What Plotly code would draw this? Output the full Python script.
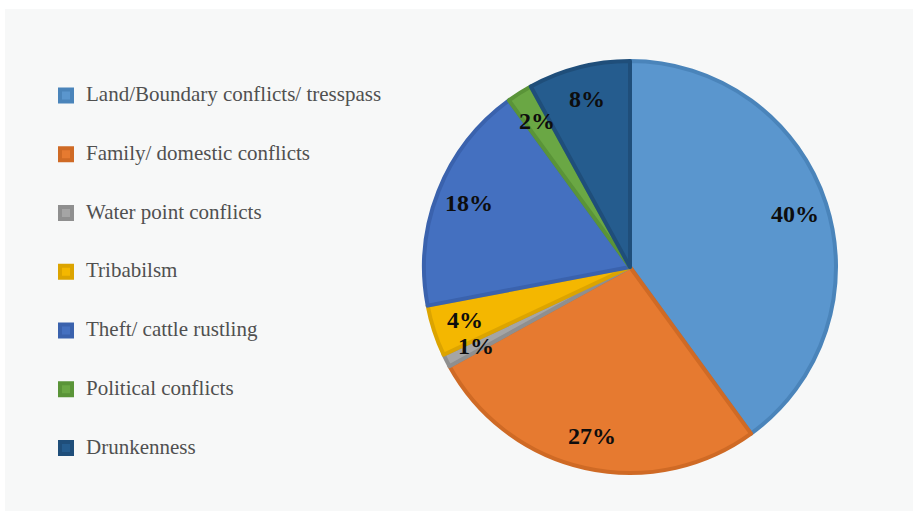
import math
import plotly.graph_objects as go

# Sources of conflict, share of responses (%)
categories = [
    "Land/Boundary conflicts/ tresspass",
    "Family/ domestic conflicts",
    "Water point conflicts",
    "Tribabilsm",
    "Theft/ cattle rustling",
    "Political conflicts",
    "Drunkenness",
]
shares = [40, 27, 1, 4, 18, 2, 8]

fill_colors = ["#5A96CE", "#E67A30", "#A5A5A5", "#F4B700", "#4470C0", "#6AA744", "#255C8E"]
edge_colors = ["#4A84BA", "#CF6A25", "#8F8F8F", "#DCA400", "#3A62AD", "#5A9438", "#1F4E7A"]

W, H = 913, 511
cx, cy, R = 630, 267, 206  # pie centre / radius in pixels
dom_x = [(cx - R) / W, (cx + R) / W]
dom_y = [(H - cy - R) / H, (H - cy + R) / H]

# padded legend entries so each row gets the tall spacing
legend_labels = [f"<br><span style='font-size:21px'>{c}</span><br>" for c in categories]

fig = go.Figure()
fig.add_trace(go.Pie(
    labels=legend_labels,
    values=shares,
    sort=False,
    direction="clockwise",
    rotation=0,
    textposition="none",
    marker=dict(colors=fill_colors, line=dict(color=edge_colors, width=4)),
    domain=dict(x=dom_x, y=dom_y),
    hoverinfo="skip",
))

# percentage labels at each slice's mid-angle, on unit axes laid over the pie
total = sum(shares)
annotations = []
running = 0
for v in shares:
    ang = math.radians((running + v / 2) / total * 360)
    running += v
    annotations.append(dict(
        x=0.84 * math.sin(ang), y=0.84 * math.cos(ang), xref="x", yref="y",
        text=f"<b>{v}%</b>", showarrow=False,
        font=dict(family="Liberation Serif", size=24, color="#0D0D0D"),
        xanchor="center", yanchor="middle",
    ))

hidden_axis = dict(range=[-1, 1], visible=False, fixedrange=True)

fig.update_layout(
    width=W, height=H,
    margin=dict(l=0, r=0, t=0, b=0),
    paper_bgcolor="white",
    plot_bgcolor="rgba(0,0,0,0)",
    xaxis=dict(domain=dom_x, **hidden_axis),
    yaxis=dict(domain=dom_y, **hidden_axis),
    annotations=annotations,
    legend=dict(
        x=46 / W, y=(H - 61) / H, xanchor="left", yanchor="top",
        font=dict(family="Liberation Serif", size=14.3, color="#505050"),
        bgcolor="rgba(0,0,0,0)",
        itemclick=False, itemdoubleclick=False,
    ),
    shapes=[dict(
        type="rect", xref="paper", yref="paper",
        x0=5 / W, x1=1, y0=0, y1=(H - 9) / H,
        fillcolor="#F7F8F8", line=dict(width=0), layer="below",
    )],
)

fig.write_html("out.html")
